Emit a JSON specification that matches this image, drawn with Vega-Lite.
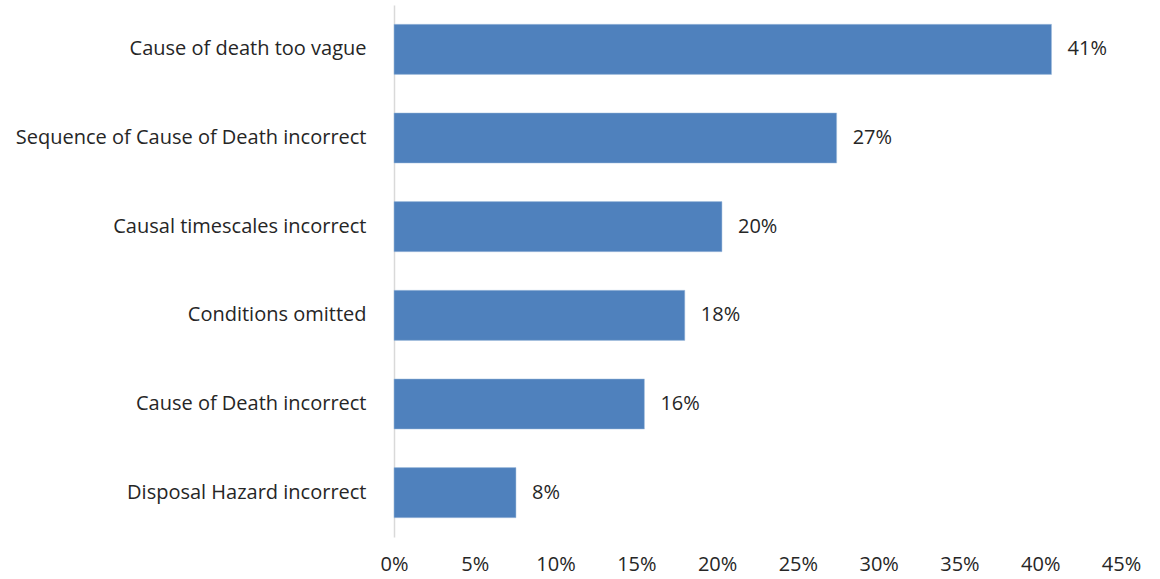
{
  "$schema": "https://vega.github.io/schema/vega-lite/v6.json",
  "autosize": "none",
  "width": 727,
  "height": 532,
  "padding": {"left": 394, "top": 5, "right": 39, "bottom": 42},
  "background": "white",
  "config": {"view": {"stroke": null}, "font": "Open Sans"},
  "data": {
    "values": [
      {"reason": "Cause of death too vague", "value": 40.7, "label": "41%"},
      {"reason": "Sequence of Cause of Death incorrect", "value": 27.4, "label": "27%"},
      {"reason": "Causal timescales incorrect", "value": 20.3, "label": "20%"},
      {"reason": "Conditions omitted", "value": 18.0, "label": "18%"},
      {"reason": "Cause of Death incorrect", "value": 15.5, "label": "16%"},
      {"reason": "Disposal Hazard incorrect", "value": 7.55, "label": "8%"}
    ]
  },
  "encoding": {
    "y": {
      "field": "reason", "type": "nominal", "sort": null,
      "scale": {"paddingInner": 0.435, "paddingOuter": 0.2175},
      "axis": {
        "title": null, "ticks": false, "domain": true, "domainColor": "#d9d9d9", "domainWidth": 1.5,
        "labelFont": "Open Sans", "labelFontSize": 20, "labelColor": "#262626", "labelPadding": 28, "labelLimit": 400
      }
    },
    "x": {
      "field": "value", "type": "quantitative",
      "scale": {"domain": [0, 45], "nice": false},
      "axis": {
        "title": null, "values": [0, 5, 10, 15, 20, 25, 30, 35, 40, 45],
        "labelExpr": "datum.value + '%'", "grid": false, "ticks": false, "domain": false,
        "labelFont": "Open Sans", "labelFontSize": 20, "labelColor": "#262626", "labelPadding": 17,
        "labelFlush": false
      }
    }
  },
  "layer": [
    {"mark": {"type": "bar", "color": "#4F81BD", "stroke": "#a7c0de", "strokeWidth": 0.5}},
    {
      "mark": {"type": "text", "align": "left", "baseline": "middle", "dx": 16, "font": "Open Sans", "fontSize": 20, "color": "#262626"},
      "encoding": {"text": {"field": "label"}}
    }
  ]
}
